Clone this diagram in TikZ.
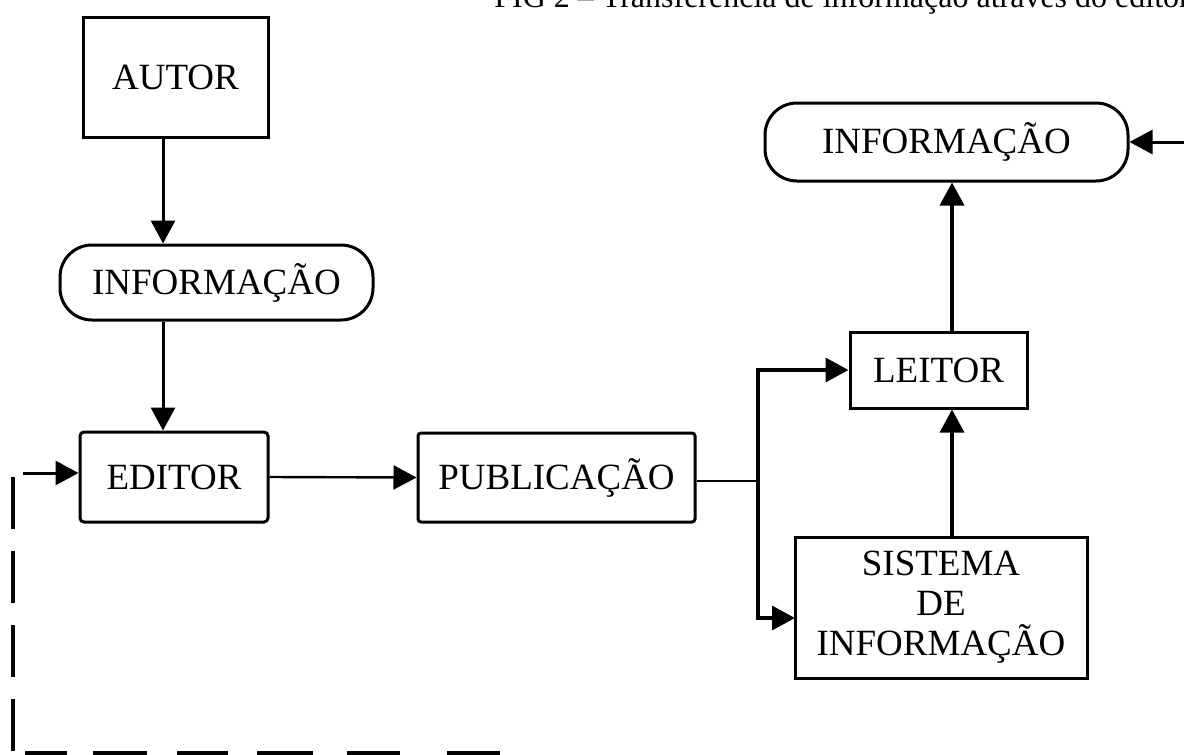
\documentclass[tikz,border=0pt]{standalone}
\usepackage{fontspec}
\setmainfont{Liberation Serif}
\usetikzlibrary{arrows.meta}
\begin{document}
\begin{tikzpicture}[x=1pt,y=-1pt,
  boxstyle/.style={draw,line width=3pt,inner sep=0pt,align=center,
    font=\fontsize{37}{40}\selectfont},
  termstyle/.style={boxstyle,rounded corners=32pt},
  arr/.style={line width=3pt,-{Triangle[length=23pt,width=24pt]}},
  fb/.style={line width=4pt}]
\clip (0,0) rectangle (1184,755);
% title
\node[anchor=base east,inner sep=0pt,font=\fontsize{32}{36}\selectfont] (title) at (1190,7)
  {FIG 2 -- Transferência de informação através do editor};
% nodes
\node[boxstyle,minimum width=185pt,minimum height=120pt] (autor) at (175.5,77) {AUTOR};
\node[termstyle,minimum width=313pt,minimum height=75pt] (info1) at (216.5,282.5) {INFORMAÇÃO};
\node[boxstyle,rounded corners=4pt,minimum width=188pt,minimum height=90pt] (editor) at (174,477) {EDITOR};
\node[boxstyle,rounded corners=3pt,minimum width=277pt,minimum height=89pt] (pub) at (556.5,477.5) {PUBLICAÇÃO};
\node[boxstyle,minimum width=177pt,minimum height=76pt] (leitor) at (938.5,370) {LEITOR};
\node[boxstyle,minimum width=292pt,minimum height=141pt] (sis) at (941,607.5) {SISTEMA\\DE\\INFORMAÇÃO};
\node[termstyle,minimum width=363pt,minimum height=78pt] (info2) at (946.5,142) {INFORMAÇÃO};
% helper coordinates
\coordinate (c1) at (163,0);
\coordinate (c2) at (952,0);
\coordinate (j) at (758,481);
\coordinate (s1) at (795,618);
\coordinate (r) at (1190,142);
\coordinate (f0) at (23,473);
\coordinate (d1) at (13,477);
\coordinate (d2) at (13,751);
\coordinate (d3) at (25,753);
\coordinate (d4) at (500,753);
% connectors
\draw[arr] (autor.south -| c1) -- (info1.north -| c1);
\draw[arr] (info1.south -| c1) -- (editor.north -| c1);
\draw[arr,line width=2.4pt] (editor.east) -- (pub.west);
\draw[line width=2.6pt] (pub.east |- j) -- (j);
\draw[arr,line width=3.5pt] (j) |- (leitor.west);
\draw[arr,line width=3.5pt] (j) |- (s1);
\draw[arr,line width=3.5pt] (sis.north -| c2) -- (leitor.south -| c2);
\draw[arr,line width=3.5pt] (leitor.north -| c2) -- (info2.south -| c2);
\draw[arr] (r) -- (info2.east);
\draw[arr] (f0) -- (editor.west |- f0);
\draw[fb,dash pattern=on 52pt off 22pt] (d1) -- (d2);
\draw[fb,dash pattern=on 42pt off 26pt on 54pt off 30pt on 51pt off 29pt on 56pt off 34pt on 53pt off 47pt on 53pt off 100pt] (d3) -- (d4);
\end{tikzpicture}
\end{document}
